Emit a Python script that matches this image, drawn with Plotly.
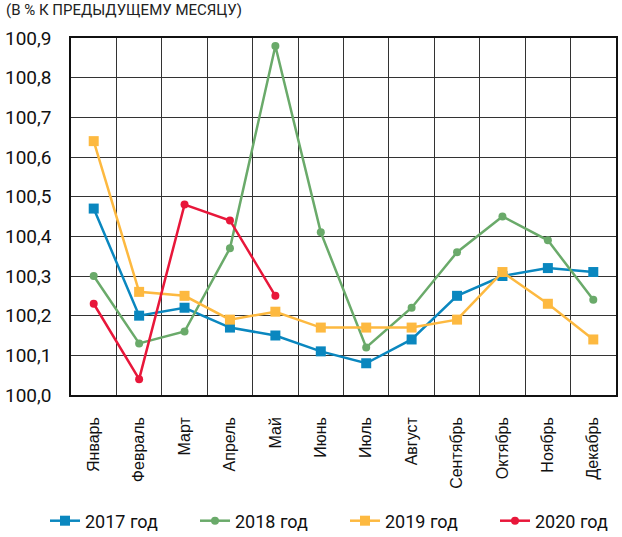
import plotly.graph_objects as go

months = ["Январь", "Февраль", "Март", "Апрель", "Май", "Июнь", "Июль",
          "Август", "Сентябрь", "Октябрь", "Ноябрь", "Декабрь"]
y2017 = [100.47, 100.20, 100.22, 100.17, 100.15, 100.11, 100.08, 100.14, 100.25, 100.30, 100.32, 100.31]
y2018 = [100.30, 100.13, 100.16, 100.37, 100.88, 100.41, 100.12, 100.22, 100.36, 100.45, 100.39, 100.24]
y2019 = [100.64, 100.26, 100.25, 100.19, 100.21, 100.17, 100.17, 100.17, 100.19, 100.31, 100.23, 100.14]
y2020 = [100.23, 100.04, 100.48, 100.44, 100.25]
y_ticks = [100.0, 100.1, 100.2, 100.3, 100.4, 100.5, 100.6, 100.7, 100.8, 100.9]

series = [
    ("2017 год", y2017, "#0a87bf", "square", 10),
    ("2018 год", y2018, "#6aaa6a", "circle", 8),
    ("2019 год", y2019, "#fdb940", "square", 10),
    ("2020 год", y2020, "#e8173a", "circle", 8),
]

FONT = "Roboto, sans-serif"
L, R, T, B, W, H = 71, 6, 38, 142, 622, 537
PW, PH = W - L - R, H - T - B
legend_left_px = [45, 195, 345, 495]

fig = go.Figure()
for i, (name, vals, color, sym, sz) in enumerate(series):
    fig.add_trace(go.Scatter(
        x=months[:len(vals)], y=vals, name=name, mode="lines+markers",
        line=dict(color=color, width=2.5),
        marker=dict(symbol=sym, size=sz, color=color),
        legend="legend" if i == 0 else f"legend{i + 1}",
    ))

legend_common = dict(orientation="h", xanchor="left", yanchor="middle",
                     y=-(521 - (T + PH)) / PH,
                     font=dict(size=18, family=FONT, color="#111"),
                     bgcolor="rgba(0,0,0,0)")
legends = {}
for i, px in enumerate(legend_left_px):
    key = "legend" if i == 0 else f"legend{i + 1}"
    legends[key] = dict(legend_common, x=(px - L) / PW)

fig.update_layout(
    width=W, height=H,
    margin=dict(l=L, r=R, t=T, b=B, autoexpand=False),
    paper_bgcolor="white", plot_bgcolor="white",
    separators=", ",
    font=dict(family=FONT, color="#222"),
    showlegend=True,
    annotations=[dict(text="(В % К ПРЕДЫДУЩЕМУ МЕСЯЦУ)", xref="paper", yref="paper",
                      x=-67 / PW, y=1 + 28 / PH, xanchor="left", yanchor="middle",
                      showarrow=False,
                      font=dict(size=15, family=FONT, color="#222"))],
    **legends,
)
fig.update_xaxes(
    type="category", categoryorder="array", categoryarray=months,
    tickson="boundaries", showgrid=True, gridcolor="#333", gridwidth=1,
    tickangle=-90, ticks="", ticklen=0, ticklabelstandoff=14, automargin=False,
    tickfont=dict(size=16, family="Liberation Sans, Arial, sans-serif", color="#111"),
    showline=True, linecolor="#111", linewidth=1.5, mirror=True,
    range=[-0.5, 11.5],
)
fig.update_yaxes(
    range=[100.0, 100.9], tickvals=y_ticks, tickformat=".1f",
    showgrid=True, gridcolor="#333", gridwidth=1, automargin=False,
    tickfont=dict(size=19, family=FONT, color="#111"),
    showline=True, linecolor="#111", linewidth=1.5, mirror=True,
    zeroline=False, ticks="", ticklen=0, ticklabelstandoff=14,
)

fig.write_html("out.html", config={"displayModeBar": False},
               post_script="document.body.style.margin='0';")
